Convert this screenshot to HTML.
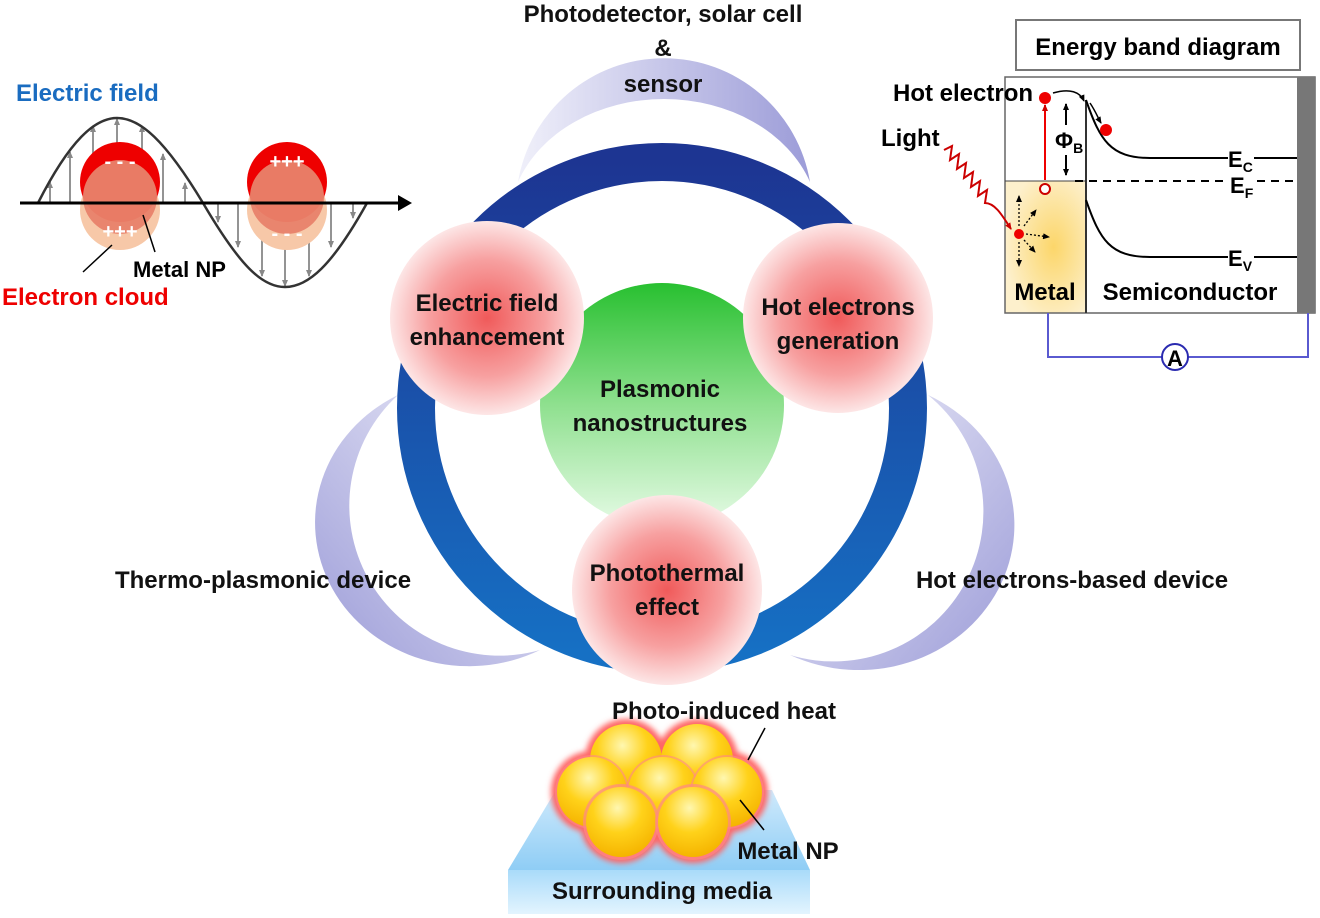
<!DOCTYPE html>
<html><head><meta charset="utf-8"><style>
html,body{margin:0;padding:0;background:#fff}
svg{display:block}
text{font-family:"Liberation Sans",Arial,sans-serif;font-weight:bold}
</style></head><body>
<svg width="1320" height="918" viewBox="0 0 1320 918" xmlns="http://www.w3.org/2000/svg">
<defs>
<linearGradient id="ring" x1="0" y1="0" x2="0" y2="1"><stop offset="0" stop-color="#1d3592"/><stop offset="1" stop-color="#1670c4"/></linearGradient>
<linearGradient id="green" x1="0" y1="0" x2="0" y2="1"><stop offset="0" stop-color="#28c030"/><stop offset="0.5" stop-color="#8fe08f"/><stop offset="1" stop-color="#e6fbe6"/></linearGradient>
<radialGradient id="pink" cx="0.5" cy="0.5" r="0.5"><stop offset="0" stop-color="#f05a5a"/><stop offset="0.6" stop-color="#f7a0a0"/><stop offset="1" stop-color="#fde6e6"/></radialGradient>
<linearGradient id="lav" x1="0" y1="0" x2="1" y2="0"><stop offset="0" stop-color="#f0f0fa"/><stop offset="1" stop-color="#9c9cd8"/></linearGradient>
<linearGradient id="lavL" x1="1" y1="0" x2="0" y2="1"><stop offset="0" stop-color="#f0f0fa"/><stop offset="1" stop-color="#9c9cd8"/></linearGradient>
<linearGradient id="lavR" x1="0" y1="0" x2="1" y2="1"><stop offset="0" stop-color="#f0f0fa"/><stop offset="1" stop-color="#9c9cd8"/></linearGradient>
<radialGradient id="gold" cx="0.45" cy="0.3" r="0.7"><stop offset="0" stop-color="#fff7b0"/><stop offset="0.5" stop-color="#ffd21a"/><stop offset="1" stop-color="#f5b400"/></radialGradient>
<radialGradient id="metal" cx="0.6" cy="0.5" r="0.6"><stop offset="0" stop-color="#fcd66a"/><stop offset="1" stop-color="#fdf0cc"/></radialGradient>
<linearGradient id="media" x1="0" y1="0" x2="0" y2="1"><stop offset="0" stop-color="#cfeafc"/><stop offset="1" stop-color="#8fcdf5"/></linearGradient>
<linearGradient id="media2" x1="0" y1="0" x2="0" y2="1"><stop offset="0" stop-color="#a9dbfa"/><stop offset="1" stop-color="#e3f4fe"/></linearGradient>
<marker id="ah" markerUnits="userSpaceOnUse" markerWidth="7" markerHeight="6" refX="6" refY="3" orient="auto"><path d="M0,0 L7,3 L0,6 z" fill="#888"/></marker>
<marker id="ahk" markerUnits="userSpaceOnUse" markerWidth="7" markerHeight="6" refX="6" refY="3" orient="auto"><path d="M0,0 L7,3 L0,6 z" fill="#000"/></marker>
<marker id="ahr" markerUnits="userSpaceOnUse" markerWidth="7" markerHeight="6" refX="6" refY="3" orient="auto"><path d="M0,0 L7,3 L0,6 z" fill="#c00"/></marker>
<filter id="glow" x="-30%" y="-30%" width="160%" height="160%"><feGaussianBlur stdDeviation="3"/></filter>
</defs>

<!-- crescents -->
<path d="M518,182 A148,148 0 0 1 810,182 A155,125 0 0 0 518,182 Z" fill="url(#lav)"/>
<path d="M398,395 A150,150 0 0 0 540,650 A150,140 0 0 1 398,395 Z" fill="url(#lavL)"/>
<path d="M928,395 A150,150 0 0 1 790,655 A150,140 0 0 0 928,395 Z" fill="url(#lavR)"/>

<!-- ring -->
<circle cx="662" cy="408" r="246" fill="none" stroke="url(#ring)" stroke-width="38"/>
<circle cx="662" cy="405" r="122" fill="url(#green)"/>
<circle cx="487" cy="318" r="97" fill="url(#pink)"/>
<circle cx="838" cy="318" r="95" fill="url(#pink)"/>
<circle cx="667" cy="590" r="95" fill="url(#pink)"/>

<!-- bottom -->
<path d="M556,790 L772,790 L810,870 L508,870 Z" fill="url(#media)"/>
<rect x="508" y="870" width="302" height="44" fill="url(#media2)"/>
<g>
<g fill="#f66" filter="url(#glow)">
<circle cx="626" cy="760" r="41"/><circle cx="697" cy="760" r="41"/><circle cx="592" cy="792" r="41"/><circle cx="663" cy="792" r="41"/><circle cx="727" cy="792" r="41"/><circle cx="621" cy="822" r="41"/><circle cx="693" cy="822" r="41"/>
</g>
<circle cx="626" cy="760" r="36" fill="url(#gold)"/>
<circle cx="697" cy="760" r="36" fill="url(#gold)"/>
<circle cx="592" cy="792" r="37" fill="#f88" opacity="0.6"/><circle cx="592" cy="792" r="35" fill="url(#gold)"/>
<circle cx="663" cy="792" r="37" fill="#f88" opacity="0.6"/><circle cx="663" cy="792" r="35" fill="url(#gold)"/>
<circle cx="727" cy="792" r="37" fill="#f88" opacity="0.6"/><circle cx="727" cy="792" r="35" fill="url(#gold)"/>
<circle cx="621" cy="822" r="38" fill="#f88" opacity="0.7"/><circle cx="621" cy="822" r="35" fill="url(#gold)"/>
<circle cx="693" cy="822" r="38" fill="#f88" opacity="0.7"/><circle cx="693" cy="822" r="35" fill="url(#gold)"/>
</g>
<line x1="765" y1="728" x2="748" y2="760" stroke="#000" stroke-width="1.5"/>
<line x1="740" y1="800" x2="764" y2="830" stroke="#000" stroke-width="1.5"/>

<g font-size="24" fill="#111" text-anchor="middle">
<text x="487" y="311">Electric field</text><text x="487" y="345">enhancement</text>
<text x="838" y="315">Hot electrons</text><text x="838" y="349">generation</text>
<text x="660" y="397">Plasmonic</text><text x="660" y="431">nanostructures</text>
<text x="667" y="581">Photothermal</text><text x="667" y="615">effect</text>
<text x="663" y="22">Photodetector, solar cell</text>
<text x="663" y="56">&amp;</text>
<text x="663" y="92">sensor</text>
<text x="263" y="588">Thermo-plasmonic device</text>
<text x="1072" y="588">Hot electrons-based device</text>
<text x="724" y="719">Photo-induced heat</text>
<text x="788" y="859">Metal NP</text>
<text x="662" y="899">Surrounding media</text>
</g>

<!-- left panel -->
<text x="16" y="101" font-size="24" fill="#1a6cc0">Electric field</text>
<g stroke="#888" stroke-width="1.8" marker-end="url(#ah)">
<line x1="50" y1="203" x2="50" y2="182"/><line x1="70" y1="203" x2="70" y2="152"/><line x1="93" y1="203" x2="93" y2="126"/>
<line x1="117" y1="203" x2="117" y2="119"/><line x1="142" y1="203" x2="142" y2="126"/><line x1="163" y1="203" x2="163" y2="154"/><line x1="185" y1="203" x2="185" y2="183"/>
<line x1="218" y1="203" x2="218" y2="222"/><line x1="238" y1="203" x2="238" y2="247"/><line x1="262" y1="203" x2="262" y2="276"/>
<line x1="285" y1="203" x2="285" y2="286"/><line x1="309" y1="203" x2="309" y2="276"/><line x1="331" y1="203" x2="331" y2="247"/><line x1="353" y1="203" x2="353" y2="218"/>
</g>
<path d="M38,203 C70,140 95,118 117,118 C140,118 165,140 203,203 C240,266 262,287 285,287 C308,287 332,266 367,203" fill="none" stroke="#333" stroke-width="2.5"/>
<circle cx="120" cy="210" r="40" fill="#f7c8a8"/>
<circle cx="120" cy="182" r="40" fill="#e00"/>
<circle cx="120" cy="197" r="37" fill="#e8826a" opacity="0.95"/>
<circle cx="287" cy="210" r="40" fill="#f7c8a8"/>
<circle cx="287" cy="182" r="40" fill="#e00"/>
<circle cx="287" cy="197" r="37" fill="#e8826a" opacity="0.95"/>
<line x1="20" y1="203" x2="400" y2="203" stroke="#000" stroke-width="3"/>
<path d="M398,195 L412,203 L398,211 z" fill="#000"/>
<g fill="#fff" font-size="20" text-anchor="middle">
<text x="120" y="168">- - -</text><text x="120" y="238">+++</text>
<text x="287" y="168">+++</text><text x="287" y="240">- - -</text></g>
<line x1="143" y1="215" x2="155" y2="252" stroke="#000" stroke-width="1.5"/>
<line x1="112" y1="245" x2="83" y2="272" stroke="#000" stroke-width="1.5"/>
<text x="133" y="277" font-size="22" fill="#000">Metal NP</text>
<text x="2" y="305" font-size="24" fill="#e00">Electron cloud</text>

<!-- right panel -->
<rect x="1016" y="20" width="284" height="50" fill="#fff" stroke="#777" stroke-width="2"/>
<text x="1158" y="55" font-size="24" text-anchor="middle">Energy band diagram</text>
<rect x="1005" y="181" width="81" height="132" fill="url(#metal)"/>
<rect x="1005" y="77" width="310" height="236" fill="none" stroke="#666" stroke-width="1.5"/>
<line x1="1005" y1="181" x2="1086" y2="181" stroke="#444"/>
<rect x="1297" y="77" width="18" height="236" fill="#777"/>
<line x1="1086" y1="100" x2="1086" y2="313" stroke="#333" stroke-width="2"/>
<path d="M1086,100 C1100,140 1110,158 1150,158 L1297,158" fill="none" stroke="#000" stroke-width="2"/>
<path d="M1086,200 C1100,240 1110,257 1150,257 L1297,257" fill="none" stroke="#000" stroke-width="2"/>
<line x1="1075" y1="181" x2="1297" y2="181" stroke="#000" stroke-width="2" stroke-dasharray="8,6"/>
<rect x="1228" y="145" width="26" height="28" fill="#fff"/><rect x="1228" y="174" width="26" height="26" fill="#fff"/><rect x="1228" y="245" width="26" height="30" fill="#fff"/>
<text x="1228" y="167" font-size="22" font-weight="normal">E<tspan font-size="14" dy="5">C</tspan></text>
<text x="1230" y="193" font-size="22" font-weight="normal">E<tspan font-size="14" dy="5">F</tspan></text>
<text x="1228" y="266" font-size="22" font-weight="normal">E<tspan font-size="14" dy="5">V</tspan></text>
<line x1="1045" y1="180" x2="1045" y2="105" stroke="#e00" stroke-width="2" marker-end="url(#ahr)"/>
<circle cx="1045" cy="98" r="6" fill="#e00"/>
<circle cx="1045" cy="189" r="5" fill="#fff" stroke="#c00" stroke-width="2"/>
<circle cx="1106" cy="130" r="6" fill="#e00"/>
<path d="M1053,93 C1070,88 1080,92 1084,101" fill="none" stroke="#000" stroke-width="1.5" marker-end="url(#ahk)"/>
<path d="M1090,103 C1096,112 1098,118 1101,123" fill="none" stroke="#000" stroke-width="1.5" marker-end="url(#ahk)"/>
<line x1="1066" y1="125" x2="1066" y2="104" stroke="#000" stroke-width="2" marker-end="url(#ahk)"/>
<line x1="1066" y1="155" x2="1066" y2="175" stroke="#000" stroke-width="2" marker-end="url(#ahk)"/>
<text x="1055" y="148" font-size="22">Φ<tspan font-size="14" dy="5">B</tspan></text>
<text x="893" y="101" font-size="24">Hot electron</text>
<text x="881" y="146" font-size="24">Light</text>
<path d="M944,150 L952,146 L950,160 L959,154 L957,169 L966,163 L964,178 L973,172 L971,187 L980,181 L978,196 L987,190 L985,203 C995,203 1002,215 1011,229" fill="none" stroke="#c00" stroke-width="2" marker-end="url(#ahr)"/>
<circle cx="1019" cy="234" r="5" fill="#e00"/>
<g stroke="#000" stroke-width="1.3" stroke-dasharray="2,2" marker-end="url(#ahk)">
<line x1="1019" y1="226" x2="1019" y2="196"/><line x1="1024" y1="226" x2="1036" y2="210"/><line x1="1026" y1="234" x2="1049" y2="237"/><line x1="1024" y1="240" x2="1035" y2="252"/><line x1="1019" y1="242" x2="1019" y2="266"/></g>
<text x="1045" y="300" font-size="24" text-anchor="middle">Metal</text>
<text x="1190" y="300" font-size="24" text-anchor="middle">Semiconductor</text>
<path d="M1048,313 V357 H1308 V313" fill="none" stroke="#5a5ad0" stroke-width="2"/>
<circle cx="1175" cy="357" r="13" fill="#fff" stroke="#2a2ab0" stroke-width="2"/>
<text x="1175" y="366" font-size="22" text-anchor="middle">A</text>
</svg>
</body></html>
